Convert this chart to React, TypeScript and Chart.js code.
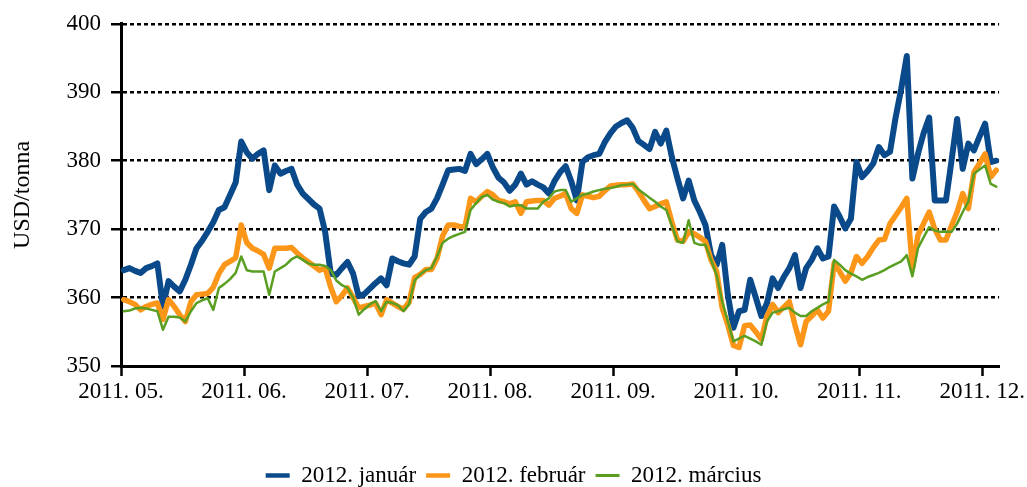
import { useEffect, useRef } from "react";
import { Chart, registerables } from "chart.js";

Chart.register(...registerables);

// ---- data -------------------------------------------------------------
const monthLabels = ["2011. 05.", "2011. 06.", "2011. 07.", "2011. 08.", "2011. 09.", "2011. 10.", "2011. 11.", "2011. 12."];
const POINTS_PER_MONTH = 22;
const TOTAL_SLOTS = 157;
const seriesNames = ["2012. január", "2012. február", "2012. március"];
const yTicks = [350, 360, 370, 380, 390, 400];
const yAxisTitle = "USD/tonna";

const januar = [
  364.0, 364.3, 363.9, 363.6, 364.3, 364.6, 365.0, 358.7, 362.4, 361.6,
  360.9, 362.6, 364.8, 367.2, 368.3, 369.6, 371.0, 372.8, 373.2, 375.0,
  376.8, 382.8, 381.2, 380.3, 381.0, 381.5, 375.7, 379.3, 378.1, 378.5,
  378.8, 376.5, 375.2, 374.4, 373.6, 373.0, 369.6, 363.5, 363.3, 364.3,
  365.2, 363.5, 360.2, 360.5, 361.3, 362.1, 362.8, 361.8, 365.7, 365.3,
  365.0, 364.8, 366.0, 371.5, 372.5, 373.0, 374.5, 376.5, 378.6, 378.7,
  378.8, 378.5, 381.0, 379.5, 380.2, 381.0, 379.0, 377.5, 376.8, 375.6,
  376.5, 378.1, 376.5, 377.0, 376.5, 376.1, 375.2, 377.0, 378.3, 379.2,
  377.0, 374.2, 379.8, 380.5, 380.8, 381.0, 382.7, 384.0, 385.0, 385.5,
  385.9, 384.8, 382.9, 382.3, 381.7, 384.2, 382.5, 384.4, 380.5, 377.4,
  374.5, 377.1, 374.2, 372.5, 370.6, 366.2, 364.8, 367.7, 360.4, 355.6,
  358.0, 358.2, 362.6, 360.0, 357.3, 359.2, 362.8, 361.4, 363.0, 364.3,
  366.2, 361.4, 364.3, 365.5, 367.2, 365.7, 366.0, 373.3, 371.8, 370.1,
  371.5, 379.8, 377.6, 378.5, 379.6, 382.0, 380.8, 381.3, 386.3, 390.5,
  395.3, 377.4, 381.0, 384.0, 386.3, 374.2, 374.2, 374.2, 380.0, 386.1,
  378.8, 382.5, 381.5, 383.5, 385.4, 379.8, 380.0,
];

const februar = [
  359.7, 359.4, 359.0, 358.2, 358.7, 359.0, 359.2, 356.8, 359.7, 358.7,
  357.5, 356.5, 359.4, 360.4, 360.5, 360.6, 361.5, 363.5, 364.8, 365.3,
  365.8, 370.6, 368.0, 367.2, 366.8, 366.3, 364.3, 367.2, 367.2, 367.2,
  367.3, 366.5, 365.8, 365.2, 364.6, 364.0, 364.3, 361.5, 359.4, 360.3,
  361.4, 360.0, 358.5, 358.7, 358.9, 359.2, 357.5, 359.7, 359.2, 358.7,
  358.3, 359.3, 362.9, 363.4, 364.1, 364.1, 365.7, 369.0, 370.6, 370.6,
  370.4, 370.3, 374.5, 374.0, 374.8, 375.5, 375.0, 374.2, 374.0, 373.7,
  374.0, 372.3, 374.0, 374.1, 374.2, 374.2, 373.5, 374.5, 374.8, 375.2,
  373.0, 372.3, 375.0, 374.8, 374.6, 374.8, 375.6, 376.3, 376.4, 376.5,
  376.5, 376.6, 375.5, 374.2, 373.0, 373.3, 373.7, 374.0, 371.0, 368.4,
  368.2, 369.6, 369.3, 368.8, 368.2, 365.5, 363.8, 358.5, 356.0, 353.0,
  352.7, 355.9, 356.0, 355.0, 353.9, 357.3, 359.0, 357.8, 358.6, 359.4,
  356.0, 353.1, 356.5, 357.3, 358.2, 357.0, 358.0, 365.0, 363.8, 362.4,
  363.6, 366.0, 365.0, 366.0, 367.3, 368.4, 368.5, 370.8, 372.0, 373.2,
  374.5, 364.3, 369.1, 370.8, 372.5, 370.0, 368.4, 368.4, 370.5, 372.5,
  375.2, 373.0, 378.3, 379.6, 381.0, 377.6, 378.6,
];

const marcius = [
  358.0, 358.1, 358.4, 358.5, 358.4, 358.2, 358.0, 355.3, 357.2, 357.2,
  357.1, 356.5, 358.0, 359.2, 359.6, 359.9, 358.2, 361.4, 362.0, 362.7,
  363.6, 366.0, 364.0, 363.8, 363.8, 363.8, 360.4, 363.8, 364.3, 364.8,
  365.6, 366.0, 365.5, 365.0, 364.8, 364.8, 364.6, 364.0, 362.5, 361.8,
  361.4, 360.0, 357.5, 358.3, 359.0, 359.5, 358.0, 359.4, 359.2, 358.9,
  358.0, 359.0, 362.5, 363.4, 364.0, 364.3, 366.0, 368.0, 368.6, 369.0,
  369.3, 369.6, 372.8, 373.8, 374.7, 375.0, 374.3, 374.0, 373.8, 373.3,
  373.5, 373.5, 373.0, 373.0, 373.0, 374.0, 374.5, 375.5, 375.7, 375.7,
  374.0, 374.5, 375.0, 375.2, 375.5, 375.7, 375.9, 376.0, 376.2, 376.4,
  376.5, 376.6, 375.8, 375.2, 374.6, 374.0, 373.3, 372.8, 370.5, 368.2,
  368.0, 371.3, 368.0, 367.7, 367.7, 365.5, 363.3, 359.4, 356.5, 353.6,
  354.0, 354.4, 354.0, 353.6, 353.1, 356.5, 357.8, 358.0, 358.3, 358.5,
  357.8, 357.3, 357.3, 358.0, 358.5, 359.0, 359.4, 365.5, 364.8, 364.0,
  363.5, 363.1, 362.6, 363.0, 363.3, 363.6, 364.0, 364.5, 364.9, 365.3,
  366.2, 363.1, 367.2, 368.8, 370.3, 369.8, 369.6, 369.6, 369.6, 370.8,
  372.5, 374.0, 378.1, 378.7, 379.3, 376.6, 376.2,
];

// ---- styles -----------------------------------------------------------
const BLUE = "#0A4A8A";
const ORANGE = "#FC9618";
const GREEN = "#5A9E22";
const FONT_FAMILY = "'Liberation Serif', 'Times New Roman', serif";
const FONT_SIZE = 23;

export default function App() {
  const canvasRef = useRef<HTMLCanvasElement | null>(null);

  useEffect(() => {
    if (!canvasRef.current) return;
    const toPoints = (arr: number[]) => arr.map((y, i) => ({ x: i + 0.5, y }));
    const font = { family: FONT_FAMILY, size: FONT_SIZE };

    const chart = new Chart(canvasRef.current, {
      type: "line",
      data: {
        datasets: [
          { label: seriesNames[0], data: toPoints(januar), borderColor: BLUE, backgroundColor: BLUE, borderWidth: 6, order: 3 },
          { label: seriesNames[1], data: toPoints(februar), borderColor: ORANGE, backgroundColor: ORANGE, borderWidth: 5.5, order: 2 },
          { label: seriesNames[2], data: toPoints(marcius), borderColor: GREEN, backgroundColor: GREEN, borderWidth: 2.5, order: 1 },
        ],
      },
      options: {
        animation: false,
        responsive: false,
        maintainAspectRatio: false,
        devicePixelRatio: 1,
        parsing: false,
        elements: {
          point: { radius: 0, hoverRadius: 0 },
          line: { tension: 0, borderJoinStyle: "round", borderCapStyle: "round", fill: false },
        },
        layout: { padding: { left: 0, right: 0, top: 6, bottom: -10 } },
        plugins: {
          tooltip: { enabled: false },
          legend: {
            position: "bottom",
            labels: {
              font,
              color: "#000",
              usePointStyle: true,
              pointStyle: "line",
              pointStyleWidth: 24,
              padding: 10,
              sort: (a: any, b: any) => a.datasetIndex - b.datasetIndex,
              generateLabels: (ch: any) => {
                const base = Chart.defaults.plugins.legend.labels.generateLabels(ch);
                return base.map((item: any) => ({ ...item, lineWidth: item.datasetIndex === 2 ? 3 : 4.5 }));
              },
            },
          },
        },
        scales: {
          x: {
            type: "linear",
            min: 0,
            max: TOTAL_SLOTS,
            afterBuildTicks: (scale: any) => {
              scale.ticks = monthLabels.map((_, k) => ({ value: k * POINTS_PER_MONTH }));
            },
            afterFit: (scale: any) => {
              scale.height = 88;
            },
            ticks: {
              font,
              color: "#000",
              autoSkip: false,
              maxRotation: 0,
              padding: 2,
              callback: (_v: any, index: number) => monthLabels[index],
            },
            grid: { drawOnChartArea: false, drawTicks: true, tickLength: 10, tickWidth: 2.5, tickColor: "#000" },
            border: { display: true, color: "#000", width: 3 },
          },
          y: {
            min: yTicks[0],
            max: yTicks[yTicks.length - 1],
            afterBuildTicks: (scale: any) => {
              scale.ticks = yTicks.map((v) => ({ value: v }));
            },
            afterFit: (scale: any) => {
              scale.width = 121;
            },
            ticks: { font, color: "#000", padding: 10 },
            grid: {
              color: "#000",
              lineWidth: 2.5,
              drawTicks: true,
              tickLength: 10,
              tickWidth: 2.5,
              tickColor: "#000",
              tickBorderDash: [],
            },
            border: { display: true, color: "#000", width: 3, dash: [4, 3] },
            title: { display: true, text: yAxisTitle, font: { family: FONT_FAMILY, size: 24 }, color: "#000", padding: { top: 8, bottom: 0 } },
          },
        },
      },
    } as any);

    return () => chart.destroy();
  }, []);

  return (
    <div style={{ position: "fixed", left: 0, top: 0, width: 1027, height: 487, background: "#fff" }}>
      <canvas ref={canvasRef} width={1027} height={487} style={{ display: "block" }} />
    </div>
  );
}
